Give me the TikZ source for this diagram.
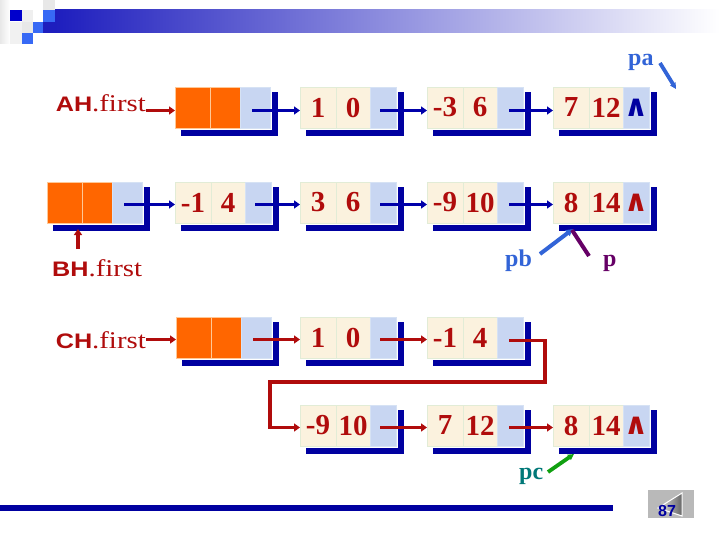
\documentclass[tikz,border=0pt]{standalone}
\usepackage{fontspec}
\setmainfont{Liberation Serif}
\setsansfont{Liberation Sans}
\newfontfamily\wedgefont{DejaVu Sans}
\usepackage{graphicx}
\usetikzlibrary{arrows.meta}
\definecolor{shadowc}{RGB}{0,0,160}
\definecolor{arrblue}{RGB}{0,0,170}
\definecolor{numred}{RGB}{176,12,12}
\definecolor{cream}{RGB}{251,242,222}
\definecolor{creamedge}{RGB}{226,236,214}
\definecolor{orangec}{RGB}{255,102,0}
\definecolor{orangeedge}{RGB}{255,200,150}
\definecolor{ptrblue}{RGB}{200,214,242}
\definecolor{ptredge}{RGB}{214,226,244}
\definecolor{pblue}{RGB}{50,100,215}
\definecolor{ppurple}{RGB}{102,0,102}
\definecolor{pteal}{RGB}{0,120,120}
\definecolor{pgreen}{RGB}{16,160,16}
\definecolor{bannerblue}{RGB}{30,30,190}
\definecolor{sqblue}{RGB}{0,0,204}
\definecolor{sqmid}{RGB}{55,105,245}
\definecolor{sqgray}{RGB}{232,232,232}
\newcommand\nodeshadow[4]{%
  \fill[shadowc] ({#1+6},{#2+5}) rectangle ({#1+#3+8},{#2+#4+8});
  \fill[white] ({#1-1},{#2-1}) rectangle ({#1+#3+2},{#2+#4+2});
}
\newcommand\headnode[3]{%
  \nodeshadow{#2}{#3}{95}{41}
  \node[headcell,minimum width=35pt,anchor=north west] (#1a) at (#2,#3) {};
  \node[headcell,minimum width=30pt,anchor=north west] (#1b) at (#1a.north east) {};
  \node[ptrcell,minimum width=30pt,anchor=north west] (#1p) at (#1b.north east) {};
}
\newcommand\datanode[6]{%
  \nodeshadow{#2}{#3}{96}{41}
  \node[datacell,minimum width=36pt,anchor=north west] (#1a) at (#2,#3) {#4};
  \node[datacell,minimum width=34pt,anchor=north west] (#1b) at (#1a.north east) {#5};
  \node[ptrcell,minimum width=26pt,anchor=north west] (#1p) at (#1b.north east) {#6};
}
\newcommand\nilmark[1]{{\color{#1}\wedgefont\bfseries\fontsize{30}{30}\selectfont ∧}}
\newcommand\lab[1]{\scalebox{1.2}[1]{{\sffamily\bfseries\fontsize{21}{21}\selectfont #1}\fontsize{24}{24}\selectfont .first}}
\begin{document}
\begin{tikzpicture}[x=1pt,y=-1pt,
  cellbase/.style={rectangle,inner sep=0pt,outer sep=0pt,minimum height=41pt,line width=0.8pt,
    font=\fontsize{29}{30}\selectfont\bfseries},
  datacell/.style={cellbase,fill=cream,draw=creamedge,text=numred},
  headcell/.style={cellbase,fill=orangec,draw=orangeedge},
  ptrcell/.style={cellbase,fill=ptrblue,draw=ptredge},
  bluearr/.style={draw=arrblue,line width=3.4pt,-{Triangle[length=6pt,width=8pt]}},
  redarr/.style={draw=numred,line width=3.6pt,-{Triangle[length=6pt,width=8pt]}},
  labtext/.style={inner sep=0pt,text=numred},
  ptrlab/.style={inner sep=0pt,font=\fontsize{24}{24}\selectfont\bfseries},
]
\useasboundingbox (0,0) rectangle (720,540);
\fill[white] (0,0) rectangle (720,540);
% banner
\shade[left color=sqgray,right color=white] (0,0) rectangle (10,44);
\fill[sqgray] (22,22) rectangle (33,33);
\fill[sqgray!70] (22,10) rectangle (33,22);
\fill[sqgray] (43,0) rectangle (55,10);
\fill[sqgray!60] (10,22) rectangle (22,44);
\fill[sqblue] (10,10) rectangle (22,21);
\shade[left color=bannerblue,right color=white] (55,10) rectangle (720,33);
\fill[bannerblue] (43,22) rectangle (56,33);
\fill[sqmid] (43,10) rectangle (55,22);
\fill[sqmid] (33,22) rectangle (43,33);
\fill[sqmid] (22,33) rectangle (33,44);
% row 1
\headnode{AH}{175}{87}
\datanode{ra}{300}{87}{1}{0}{}
\datanode{rb}{427}{87}{-3}{6}{}
\datanode{rc}{553}{87}{7}{12}{\nilmark{shadowc}}
% row 2
\headnode{BH}{47}{182}
\datanode{sa}{175}{182}{-1}{4}{}
\datanode{sb}{300}{182}{3}{6}{}
\datanode{sc}{427}{182}{-9}{10}{}
\datanode{sd}{553}{182}{8}{14}{\nilmark{numred}}
% row 3
\headnode{CH}{176}{317}
\datanode{ta}{300}{317}{1}{0}{}
\datanode{tb}{427}{317}{-1}{4}{}
% row 4
\datanode{ua}{300}{405}{-9}{10}{}
\datanode{ub}{427}{405}{7}{12}{}
\datanode{uc}{553}{405}{8}{14}{\nilmark{numred}}
% labels
\node[labtext,anchor=base east] (ahlab) at (146,112) {\lab{AH}};
\node[labtext,anchor=base west] (bhlab) at (52,276) {\lab{BH}};
\node[labtext,anchor=base east] (chlab) at (146,348) {\lab{CH}};
\node[ptrlab,text=pblue,anchor=base west] (palab) at (628,66) {pa};
\node[ptrlab,text=pblue,anchor=base west] (pblab) at (505,266) {pb};
\node[ptrlab,text=ppurple,anchor=base west] (plab) at (603,266) {p};
\node[ptrlab,text=pteal,anchor=base west] (pclab) at (519,479) {pc};
% head arrows
\draw[redarr] ([yshift=-3pt]ahlab.east |- AHa.west) -- ([yshift=-3pt]AHa.west);
\draw[redarr] ([yshift=-2pt]chlab.east |- CHa.west) -- ([yshift=-2pt]CHa.west);
\coordinate (bhtail) at (78,249);
\coordinate (bhtip) at (78,229);
\draw[redarr] (bhtail) -- (bhtip);
% row 1 links
\draw[bluearr] ([xshift=-3pt,yshift=-3pt]AHp.center) -- ([yshift=-3pt]raa.west);
\draw[bluearr] ([xshift=-3pt,yshift=-3pt]rap.center) -- ([yshift=-3pt]rba.west);
\draw[bluearr] ([xshift=-1pt,yshift=-3pt]rbp.center) -- ([yshift=-3pt]rca.west);
% row 2 links
\draw[bluearr] ([xshift=-3pt,yshift=-2pt]BHp.center) -- ([yshift=-2pt]saa.west);
\draw[bluearr] ([xshift=-3pt,yshift=-2pt]sap.center) -- ([yshift=-2pt]sba.west);
\draw[bluearr] ([xshift=-3pt,yshift=-2pt]sbp.center) -- ([yshift=-2pt]sca.west);
\draw[bluearr] ([xshift=-1pt,yshift=-2pt]scp.center) -- ([yshift=-2pt]sda.west);
% row 3 links
\draw[redarr] ([xshift=-3pt,yshift=-2pt]CHp.center) -- ([yshift=-2pt]taa.west);
\draw[redarr] ([xshift=-3pt,yshift=-2pt]tap.center) -- ([yshift=-2pt]tba.west);
\coordinate (loopR) at (545,382);
\coordinate (loopL) at (270,382);
\draw[redarr] ([xshift=-1pt,yshift=-3pt]tbp.center) -| (loopR) -- (loopL) |- ([yshift=-2pt]uaa.west);
% row 4 links
\draw[redarr] ([xshift=-3pt,yshift=-2pt]uap.center) -- ([yshift=-2pt]uba.west);
\draw[redarr] ([xshift=-1pt,yshift=-2pt]ubp.center) -- ([yshift=-2pt]uca.west);
% pointer lines
\coordinate (pa1) at (660,63);
\coordinate (pa2) at (676,89);
\draw[pblue,line width=3.8pt,-{Triangle[length=6pt,width=6pt]}] (pa1) -- (pa2);
\coordinate (pb1) at (540,254);
\coordinate (pb2) at (573,229);
\draw[pblue,line width=4pt,-{Triangle[length=7pt,width=7pt]}] (pb1) -- (pb2);
\coordinate (p1) at (589,256);
\coordinate (p2) at (572,230);
\draw[ppurple,line width=4pt] (p1) -- (p2);
\coordinate (pc1) at (548,472);
\coordinate (pc2) at (574,454);
\draw[pgreen,line width=3.8pt,-{Triangle[length=6pt,width=6pt]}] (pc1) -- (pc2);
% footer
\fill[shadowc] (0,505) rectangle (613,511);
\fill[gray!55] (648,490) rectangle (694,518);
\shade[left color=gray!20,right color=gray!80!black,draw=white,line width=1pt] (682,493) -- (682,516) -- (658,508) -- cycle;
\node[inner sep=0pt,text=shadowc,font=\sffamily\bfseries\fontsize{16}{16}\selectfont] (pg) at (667,511) {87};
\end{tikzpicture}
\end{document}
